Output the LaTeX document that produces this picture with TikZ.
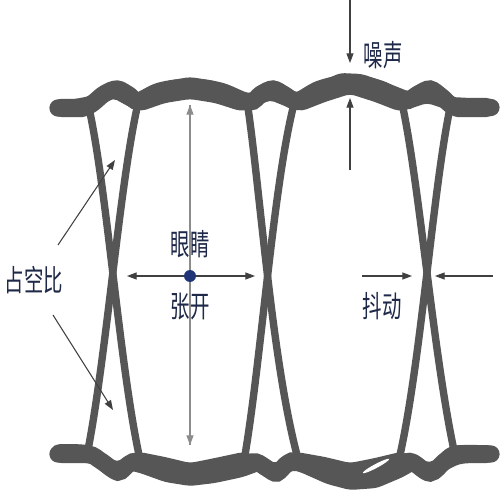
\documentclass[tikz,border=0pt]{standalone}
\usepackage{fontspec}
\usepackage{xcolor}
\usepackage{tikz}
\usetikzlibrary{arrows.meta}
\newfontfamily\cjk{Noto Sans CJK SC}
\definecolor{trace}{RGB}{86,86,86}
\definecolor{ink}{RGB}{30,40,72}
\definecolor{dotblue}{RGB}{31,53,119}
\newcommand{\narrow}[1]{\scalebox{0.65}[1]{#1}}

\begin{document}
\begin{tikzpicture}[
          x=0.02cm, y=-0.02cm,
          rail/.style={fill=trace, rounded corners=2.5pt},
          band/.style={draw=trace, line width=9.8pt, line cap=round},
          wave/.style={draw=trace, line width=4.2pt},
          pointer/.style={draw=black!75, line width=0.6pt, -{Triangle[length=5.5pt, width=4pt]}},
          gauge/.style={draw=black!45, line width=0.7pt, -{Triangle[length=5.5pt, width=4pt]}},
          cnlabel/.style={text=ink, font=\cjk\fontsize{17}{20}\selectfont, inner sep=0pt},
          dot/.style={circle, fill=dotblue, minimum size=6.8pt, inner sep=0pt}
      ]

      \fill[white] (0,0) rectangle (500,500);
      \useasboundingbox (0,0) rectangle (500,500);

      % Traces
      \draw[wave] (89,108) .. controls (107,190) and (119,360) .. (139,455);
      \draw[wave] (137,108) .. controls (119,190) and (106,360) .. (87,455);
      \draw[wave] (248,108) .. controls (260,190) and (272,360) .. (297,455);
      \draw[wave] (293,108) .. controls (273,190) and (261,360) .. (245,455);
      \draw[wave] (403,108) .. controls (420,190) and (434,360) .. (455,455);
      \draw[wave] (450,108) .. controls (433,190) and (421,360) .. (400,455);

      % Rails
      \draw[band] plot[smooth, tension=0.55] coordinates {
        (58,108) (86,107) (104,94) (117,89) (129,95) (138,101) (160,91)
        (190,87) (220,91) (249,102) (261,94) (273,89) (285,95) (297,101)
        (320,89) (350,83) (380,89) (404,101) (418,94) (430,89) (442,97)
        (453,106) (472,107.5) (491,107.5)};
      \draw[band] plot[smooth, tension=0.55] coordinates {
        (58,454) (88,454) (101,461) (118,472) (129,464) (141,462) (190,475)
        (243,464) (256,462) (268,469) (277,473) (288,463) (300,462) (350,477)
        (400,464) (412,462) (430,473) (445,461) (457,454) (491,454)};
      \fill[rail] (56,99) -- (75,99) -- (90,96) -- (104,86) -- (117,81) -- (128,86)
        -- (137,93) -- (152,89) -- (167,81) -- (190,77) -- (215,81) -- (240,92)
        -- (253,93) -- (262,85) -- (273,81) -- (285,86) -- (297,93) -- (320,82)
        -- (340,73) -- (362,74) -- (385,82) -- (410,92) -- (420,85) -- (430,81)
        -- (440,88) -- (451,97) -- (470,98) -- (491,98) -- (496,103) -- (496,112)
        -- (491,117) -- (470,117) -- (453,117) -- (445,109) -- (427,103)
        -- (409,109) -- (398,111) -- (375,102) -- (350,94) -- (325,102)
        -- (302,111) -- (292,109) -- (270,100) -- (252,109) -- (240,111)
        -- (215,103) -- (190,99) -- (165,103) -- (142,111) -- (133,109)
        -- (113,98) -- (95,109) -- (87,117) -- (70,117) -- (57,117) -- (52,112)
        -- (52,103) -- cycle;
      \fill[rail] (56,444) -- (75,444) -- (89,445) -- (101,453) -- (117,462)
        -- (130,455) -- (140,452) -- (165,457) -- (190,463) -- (215,458)
        -- (243,452) -- (255,455) -- (268,461) -- (277,463) -- (288,456)
        -- (297,452) -- (325,457) -- (350,463) -- (375,458) -- (400,452)
        -- (411,455) -- (430,463) -- (445,452) -- (455,445) -- (470,445)
        -- (491,445) -- (496,449) -- (496,459) -- (491,463) -- (470,463)
        -- (459,464) -- (447,470) -- (438,477) -- (430,483) -- (422,477)
        -- (415,470) -- (403,477) -- (377,488) -- (350,490) -- (327,484)
        -- (300,472) -- (292,470) -- (284,477) -- (277,483) -- (270,477)
        -- (262,470) -- (243,477) -- (215,483) -- (190,486) -- (165,482)
        -- (140,473) -- (128,470) -- (123,477) -- (118,483) -- (111,477)
        -- (100,467) -- (88,463) -- (70,463) -- (57,463) -- (52,459)
        -- (52,448) -- cycle;
      \fill[white, rotate around={28:(376,466)}] (376,466) ellipse [x radius=15, y radius=2];

      % Labels
      \node[cnlabel] (noise) at (383,55) {\narrow{噪声}};
      \node[cnlabel] (eye) at (190,244) {\narrow{眼睛}};
      \node[cnlabel] (open) at (190,307) {\narrow{张开}};
      \node[cnlabel] (jitter) at (382,306) {\narrow{抖动}};
      \node[cnlabel] (duty) at (34,280) {\narrow{占空比}};

      % Arrow ends
      \coordinate (noisetop) at (350,0);
      \coordinate (noisetip) at (350,63);
      \coordinate (noisebase) at (350,170);
      \coordinate (railtip) at (350,98);
      \coordinate (eyetop) at (190,105);
      \coordinate (eyebottom) at (190,445);
      \coordinate (eyeleft) at (127,276);
      \coordinate (eyeright) at (255,276);
      \coordinate (jitterin) at (362,276);
      \coordinate (jitterleft) at (412,276);
      \coordinate (jitterout) at (493,276);
      \coordinate (jitterright) at (435,276);
      \coordinate (dutyup) at (58,245);
      \coordinate (dutyuptip) at (115,160);
      \coordinate (dutydown) at (53,315);
      \coordinate (dutydowntip) at (113,410);

      % Arrows
      \draw[gauge] (eyebottom) -- (eyetop);
      \draw[gauge] (eyetop) -- (eyebottom);
      \draw[pointer] (noisetop) -- (noisetip);
      \draw[pointer] (noisebase) -- (railtip);
      \node[dot] (centre) at (190,276) {};
      \draw[pointer] (centre) -- (eyeleft);
      \draw[pointer] (centre) -- (eyeright);
      \draw[pointer] (jitterin) -- (jitterleft);
      \draw[pointer] (jitterout) -- (jitterright);
      \draw[pointer] (dutyup) -- (dutyuptip);
      \draw[pointer] (dutydown) -- (dutydowntip);

      \end{tikzpicture}
\end{document}
